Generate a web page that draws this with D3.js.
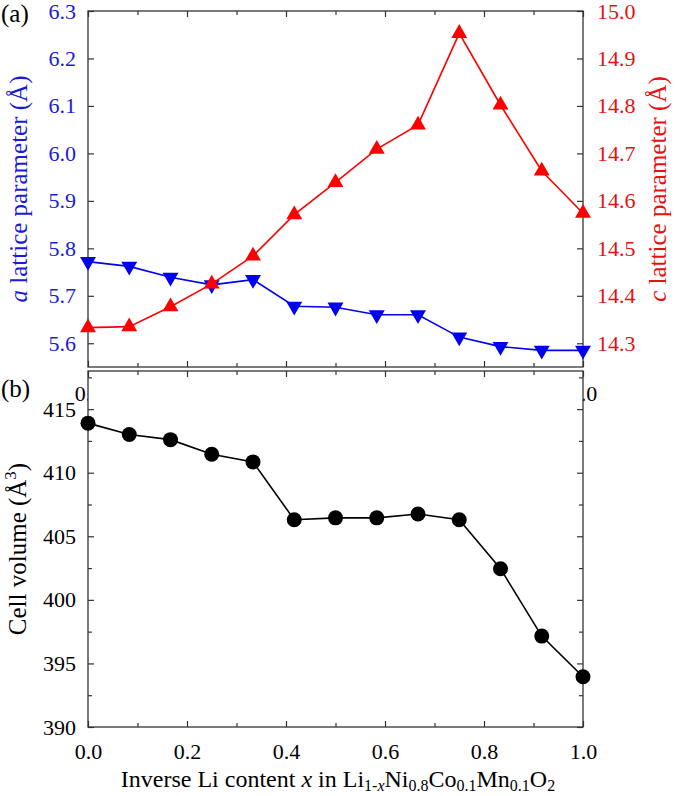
<!DOCTYPE html>
<html><head><meta charset="utf-8">
<script src="https://cdn.jsdelivr.net/npm/d3@7"></script>
<style>body{margin:0;background:#fff}svg{display:block}text{font-family:"Liberation Serif","Times New Roman",serif}</style>
</head><body><svg id="c" width="675" height="796"></svg>
<script>
const xValues = [0, 1/12, 2/12, 3/12, 4/12, 5/12, 6/12, 7/12, 8/12, 9/12, 10/12, 11/12, 1];
const aParam = [5.772, 5.762, 5.739, 5.723, 5.734, 5.678, 5.676, 5.660, 5.660, 5.613, 5.593, 5.585, 5.585];
const cParam = [14.333, 14.335, 14.377, 14.425, 14.484, 14.571, 14.639, 14.709, 14.760, 14.953, 14.802, 14.663, 14.574];
const cellVolume = [413.9, 413.0, 412.6, 411.45, 410.85, 406.3, 406.45, 406.45, 406.75, 406.3, 402.45, 397.15, 393.95];
const xTicks = [0, 0.2, 0.4, 0.6, 0.8, 1.0];
const xMinor = [0.1, 0.3, 0.5, 0.7, 0.9];
const aTicks = [5.6, 5.7, 5.8, 5.9, 6.0, 6.1, 6.2, 6.3];
const cTicks = [14.3, 14.4, 14.5, 14.6, 14.7, 14.8, 14.9, 15.0];
const vTicks = [390, 395, 400, 405, 410, 415];
const vMinor = [392.5, 397.5, 402.5, 407.5, 412.5, 417.5];

const BLUE = "#0000f0", RED = "#ff0000", BLUE_T = "#1a1ad8", RED_T = "#e81010", AX = "#333";
const FONT = '"Liberation Serif","Times New Roman",serif';
const svg = d3.select("#c");
const L = 88, R = 583;
const top1 = 11, bot1 = 367, top2 = 371, bot2 = 727;
const x = d3.scaleLinear().domain([0, 1]).range([L, R]);
const yA = d3.scaleLinear().domain([5.55, 6.3]).range([bot1, top1]);
const yC = d3.scaleLinear().domain([14.25, 15.0]).range([bot1, top1]);
const yV = d3.scaleLinear().domain([390, 418]).range([bot2, top2]);
const fmt1 = d3.format(".1f");

function styleAxis(g, color) {
  g.select(".domain").remove();
  g.attr("font-family", null).attr("font-size", null);
  g.selectAll(".tick line").attr("stroke", AX).attr("stroke-width", 1.2);
  g.selectAll(".tick text").attr("fill", color).style("font-size", "22px").style("font-family", FONT);
}

// ---------- Panel (a) ----------
const gA = svg.append("g");
gA.append("g").attr("transform", `translate(0,${bot1})`)
  .call(d3.axisBottom(x).tickValues(xTicks).tickFormat(fmt1).tickSize(-6).tickPadding(18))
  .call(g => styleAxis(g, "#000"));
gA.append("g").attr("transform", `translate(0,${bot1})`)
  .call(d3.axisBottom(x).tickValues(xMinor).tickFormat("").tickSize(-4))
  .call(g => styleAxis(g, "#000"));
gA.append("g").attr("transform", `translate(0,${top1})`)
  .call(d3.axisTop(x).tickValues(xTicks).tickFormat("").tickSize(-6))
  .call(g => styleAxis(g, "#000"));
gA.append("g").attr("transform", `translate(0,${top1})`)
  .call(d3.axisTop(x).tickValues(xMinor).tickFormat("").tickSize(-4))
  .call(g => styleAxis(g, "#000"));
gA.append("g").attr("transform", `translate(${L},0)`)
  .call(d3.axisLeft(yA).tickValues(aTicks).tickFormat(fmt1).tickSize(-6).tickPadding(12))
  .call(g => styleAxis(g, BLUE_T));
gA.append("g").attr("transform", `translate(${R},0)`)
  .call(d3.axisRight(yC).tickValues(cTicks).tickFormat(fmt1).tickSize(-6).tickPadding(14))
  .call(g => styleAxis(g, RED_T));
gA.append("rect").attr("x", L).attr("y", top1).attr("width", R - L).attr("height", bot1 - top1)
  .attr("fill", "none").attr("stroke", AX).attr("stroke-width", 1.3);

const tri = d3.symbol().type(d3.symbolTriangle).size(110);
const lineA = d3.line().x((d, i) => x(xValues[i])).y(d => yA(d));
gA.append("path").datum(aParam).attr("d", lineA).attr("fill", "none").attr("stroke", BLUE).attr("stroke-width", 1.6);
gA.selectAll(".ma").data(aParam).join("path")
  .attr("d", tri).attr("transform", (d, i) => `translate(${x(xValues[i])},${yA(d)}) rotate(180)`)
  .attr("fill", BLUE);
const lineC = d3.line().x((d, i) => x(xValues[i])).y(d => yC(d));
gA.append("path").datum(cParam).attr("d", lineC).attr("fill", "none").attr("stroke", RED).attr("stroke-width", 1.6);
gA.selectAll(".mc").data(cParam).join("path")
  .attr("d", tri).attr("transform", (d, i) => `translate(${x(xValues[i])},${yC(d)})`)
  .attr("fill", RED);

const tA = svg.append("text").attr("transform", `translate(27,${(top1 + bot1) / 2}) rotate(-90)`)
  .attr("text-anchor", "middle").attr("font-size", 25).attr("fill", BLUE_T);
tA.append("tspan").attr("font-style", "italic").text("a");
tA.append("tspan").text(" lattice parameter (Å)");
const tC = svg.append("text").attr("transform", `translate(666,${(top1 + bot1) / 2}) rotate(-90)`)
  .attr("text-anchor", "middle").attr("font-size", 25).attr("fill", RED_T);
tC.append("tspan").attr("font-style", "italic").text("c");
tC.append("tspan").text(" lattice parameter (Å)");
svg.append("text").attr("x", 1).attr("y", 22).attr("font-size", 25).text("(a)");

// ---------- Panel (b) ----------
const gB = svg.append("g");
gB.append("rect").attr("x", L).attr("y", top2).attr("width", R - L).attr("height", bot2 - top2).attr("fill", "#fff");
gB.append("g").attr("transform", `translate(0,${bot2})`)
  .call(d3.axisBottom(x).tickValues(xTicks).tickFormat(fmt1).tickSize(-6).tickPadding(16))
  .call(g => styleAxis(g, "#000"));
gB.append("g").attr("transform", `translate(0,${bot2})`)
  .call(d3.axisBottom(x).tickValues(xMinor).tickFormat("").tickSize(-4))
  .call(g => styleAxis(g, "#000"));
gB.append("g").attr("transform", `translate(0,${top2})`)
  .call(d3.axisTop(x).tickValues(xTicks).tickFormat("").tickSize(-6))
  .call(g => styleAxis(g, "#000"));
gB.append("g").attr("transform", `translate(0,${top2})`)
  .call(d3.axisTop(x).tickValues(xMinor).tickFormat("").tickSize(-4))
  .call(g => styleAxis(g, "#000"));
gB.append("g").attr("transform", `translate(${L},0)`)
  .call(d3.axisLeft(yV).tickValues(vTicks).tickFormat(d3.format("d")).tickSize(-6).tickPadding(12))
  .call(g => styleAxis(g, "#000"));
gB.append("g").attr("transform", `translate(${L},0)`)
  .call(d3.axisLeft(yV).tickValues(vMinor).tickFormat("").tickSize(-4))
  .call(g => styleAxis(g, "#000"));
gB.append("g").attr("transform", `translate(${R},0)`)
  .call(d3.axisRight(yV).tickValues(vTicks).tickFormat("").tickSize(-6))
  .call(g => styleAxis(g, "#000"));
gB.append("g").attr("transform", `translate(${R},0)`)
  .call(d3.axisRight(yV).tickValues(vMinor).tickFormat("").tickSize(-4))
  .call(g => styleAxis(g, "#000"));
gB.append("rect").attr("x", L).attr("y", top2).attr("width", R - L).attr("height", bot2 - top2)
  .attr("fill", "none").attr("stroke", AX).attr("stroke-width", 1.3);

const lineV = d3.line().x((d, i) => x(xValues[i])).y(d => yV(d));
gB.append("path").datum(cellVolume).attr("d", lineV).attr("fill", "none").attr("stroke", "#000").attr("stroke-width", 1.6);
gB.selectAll(".mv").data(cellVolume).join("circle")
  .attr("cx", (d, i) => x(xValues[i])).attr("cy", d => yV(d)).attr("r", 7.5).attr("fill", "#000");

const tV = svg.append("text").attr("transform", `translate(26,${(top2 + bot2) / 2}) rotate(-90)`)
  .attr("text-anchor", "middle").attr("font-size", 25).attr("fill", "#000");
tV.append("tspan").text("Cell volume (Å");
tV.append("tspan").attr("font-size", 17).attr("dy", -10).text("3");
tV.append("tspan").attr("dy", 10).text(")");
svg.append("text").attr("x", 1).attr("y", 397).attr("font-size", 25).text("(b)");

const tX = svg.append("text").attr("x", 338).attr("y", 787).attr("text-anchor", "middle").attr("font-size", 24);
tX.append("tspan").text("Inverse Li content ");
tX.append("tspan").attr("font-style", "italic").text("x");
tX.append("tspan").text(" in Li");
tX.append("tspan").attr("font-size", 16).attr("dy", 4).text("1-");
tX.append("tspan").attr("font-size", 16).attr("font-style", "italic").text("x");
tX.append("tspan").attr("dy", -4).text("Ni");
tX.append("tspan").attr("font-size", 16).attr("dy", 4).text("0.8");
tX.append("tspan").attr("dy", -4).text("Co");
tX.append("tspan").attr("font-size", 16).attr("dy", 4).text("0.1");
tX.append("tspan").attr("dy", -4).text("Mn");
tX.append("tspan").attr("font-size", 16).attr("dy", 4).text("0.1");
tX.append("tspan").attr("dy", -4).text("O");
tX.append("tspan").attr("font-size", 16).attr("dy", 4).text("2");
</script></body></html>
